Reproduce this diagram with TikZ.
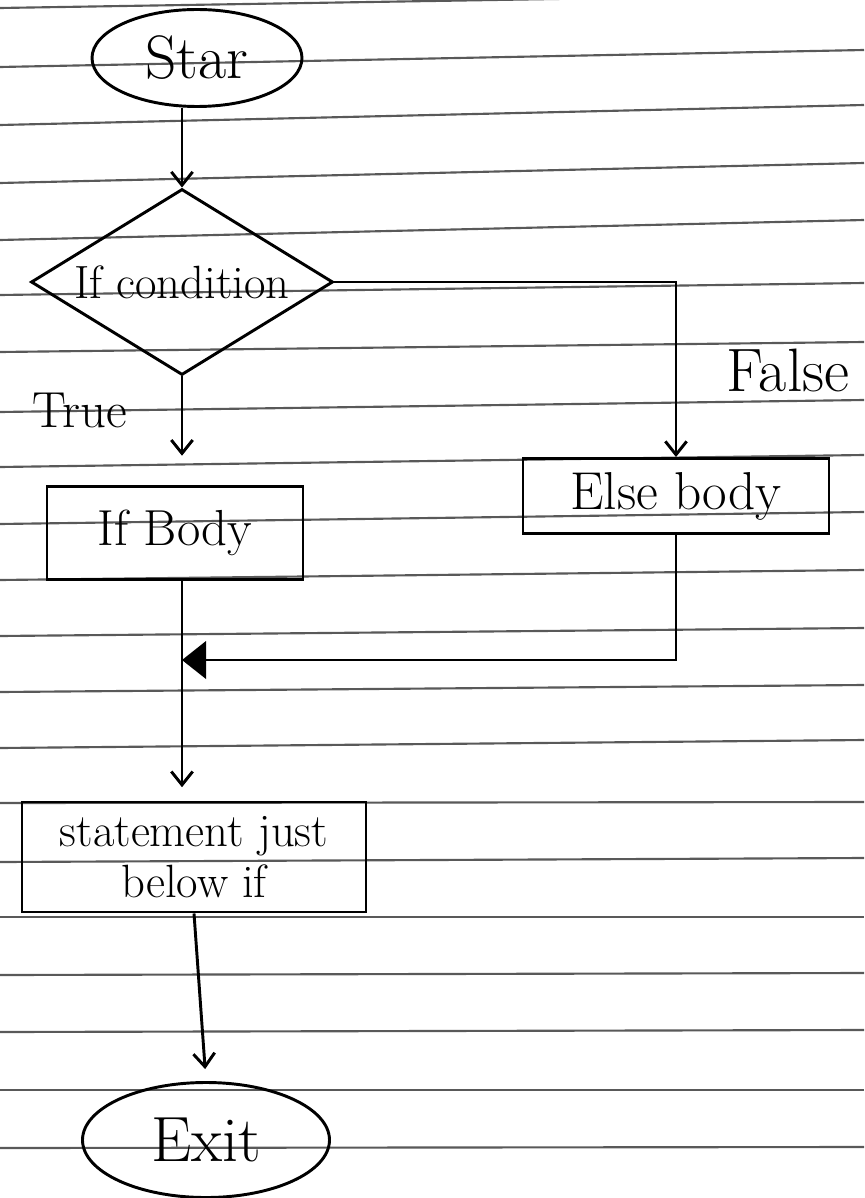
\documentclass[tikz,border=0pt]{standalone}
\usetikzlibrary{shapes.geometric,arrows.meta,calc}
\newcommand\pxu{0.75pt}
\begin{document}
\begin{tikzpicture}[x=0.75pt,y=-0.75pt,
  rule/.style={black!65, line width=1.6pt},
  ln/.style={line width=2.2pt, black},
  arr/.style={ln, -{Straight Barb[length=10pt,width=16pt]}},
  tri/.style={ln, -{Triangle[length=18pt,width=28pt]}},
  box/.style={draw, rectangle, line width=2.2pt, inner sep=0pt},
  term/.style={draw, ellipse, line width=2.2pt, inner sep=0pt},
  dec/.style={draw, diamond, line width=2.2pt, inner sep=0pt, shape aspect=1.65},
  hand/.style={font=\fontsize{#1}{#1}\selectfont}
]
\useasboundingbox (0,0) rectangle (864,1198);
\fill[white] (0,0) rectangle (864,1198);
% ruled paper
\foreach \a/\b in {8/-6, 67/50, 125/105, 183/163, 240/220, 295/283, 352/342, 412/400,
  467/455, 524/512, 580/570, 636/628, 692/685, 748/740, 803/802, 862/858, 917/917,
  975/973, 1032/1030, 1090/1090, 1148/1147}
  \draw[rule] (0,\a) -- (864,\b);

% nodes
\node[term, hand=46, minimum width=210*\pxu, minimum height=97*\pxu] (start) at (197,58) {Star};
\node[dec, hand=35, minimum width=302*\pxu, minimum height=186*\pxu] (cond) at (182,282) {If condition};
\node[box, hand=38, minimum width=256*\pxu, minimum height=93*\pxu] (ifbody) at (175,533) {If Body};
\node[box, hand=40, minimum width=306*\pxu, minimum height=75*\pxu] (elsebody) at (676,496) {Else body};
\node[box, font=\fontsize{35}{38}\selectfont, align=center, minimum width=344*\pxu, minimum height=110*\pxu] (stmt) at (194,857) {statement just\\below if};
\node[term, hand=48, minimum width=247*\pxu, minimum height=115*\pxu] (exit) at (206,1140) {Exit};

\node[hand=38] (truelbl) at (80,410) {True};
\node[hand=46] (falselbl) at (788,370) {False};

% connectors
\draw[arr] (start.south -| cond.north) -- (cond.north);
\draw[arr, shorten >=22pt] (cond.south) -- (cond.south |- ifbody.north);
\draw[arr] (cond.east) -| (elsebody.north);
\draw[arr, shorten >=10pt] (ifbody.south -| cond.south) -- (stmt.north -| cond.south);
\coordinate (join) at ($(ifbody.south -| cond.south)!0.36!(stmt.north -| cond.south)$);
\draw[tri] (elsebody.south) |- (join);
\draw[arr, shorten >=9pt] (stmt.south) -- (exit.north);
\end{tikzpicture}
\end{document}
